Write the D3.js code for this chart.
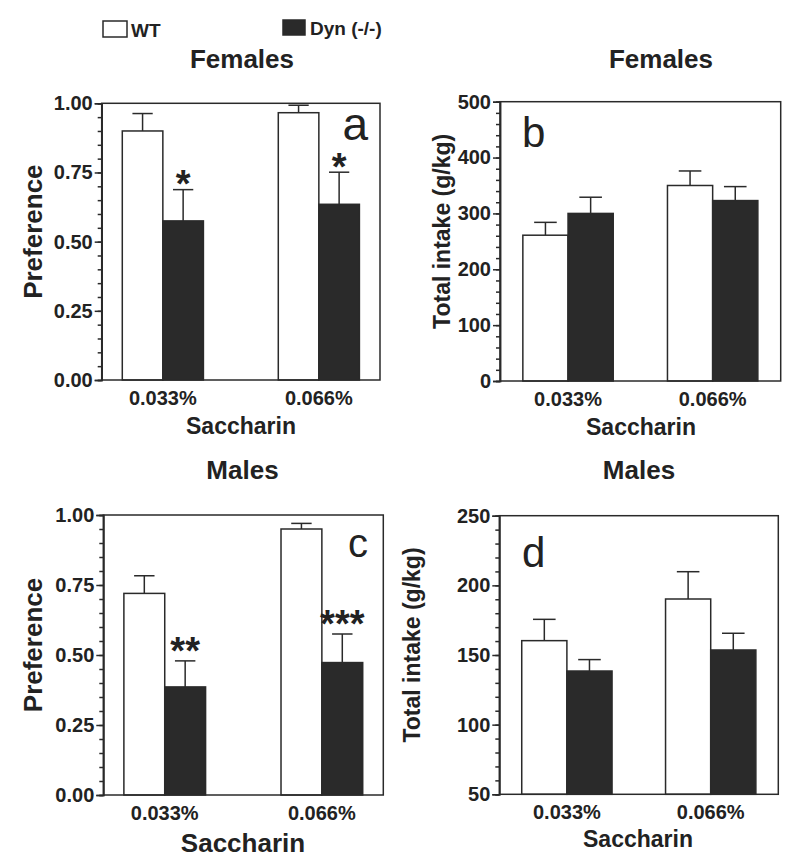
<!DOCTYPE html>
<html>
<head>
<meta charset="utf-8">
<script src="https://cdnjs.cloudflare.com/ajax/libs/d3/7.8.5/d3.min.js"></script>
<style>
  body { margin: 0; background: #fff; }
  svg text { font-family: "Liberation Sans", Arial, sans-serif; fill: #222; }
</style>
</head>
<body>
<div id="chart"></div>
<script>
// categories and groups
const categories = ["0.033%", "0.066%"];
const groups = ["WT", "Dyn (-/-)"];

// Females: preference (mean, SEM)
const femPrefWT = [0.90, 0.966];
const femPrefWTErr = [0.063, 0.027];
const femPrefDyn = [0.575, 0.635];
const femPrefDynErr = [0.113, 0.116];
const femPrefStars = ["*", "*"];

// Females: total intake g/kg
const femIntWT = [261, 350];
const femIntWTErr = [23, 26];
const femIntDyn = [300, 323];
const femIntDynErr = [29, 25];

// Males: preference
const malePrefWT = [0.72, 0.95];
const malePrefWTErr = [0.063, 0.02];
const malePrefDyn = [0.386, 0.473];
const malePrefDynErr = [0.093, 0.102];
const malePrefStars = ["**", "***"];

// Males: total intake g/kg
const maleIntWT = [160.3, 190.2];
const maleIntWTErr = [15.3, 19.6];
const maleIntDyn = [138.5, 153.6];
const maleIntDynErr = [8.2, 12];

// y tick values
const prefTicks = [0, 0.25, 0.5, 0.75, 1];
const femIntTicks = [0, 100, 200, 300, 400, 500];
const maleIntTicks = [50, 100, 150, 200, 250];

const ink = "#2a2a2a";

const svg = d3.select("#chart").append("svg")
  .attr("width", 800)
  .attr("height", 866);

const panels = [
  { letter: "a", title: "Females", wt: femPrefWT, wtErr: femPrefWTErr, dyn: femPrefDyn, dynErr: femPrefDynErr,
    stars: femPrefStars, starGap: 14, ticks: prefTicks, minor: 0.05, fmt: d3.format(".2f"), yLabel: "Preference",
    box: [101.7, 103.3, 380, 380], padIn: 0.48, padOut: 0.132,
    titleX: 242, titleY: 68, xLabSize: 23, xLabY: 434, xLabX: 241, yLabX: 41.7, yLabSize: 26,
    letterX: 368, letterY: 140, letterSize: 46, letterAnchor: "end" },
  { letter: "b", title: "Females", wt: femIntWT, wtErr: femIntWTErr, dyn: femIntDyn, dynErr: femIntDynErr,
    stars: null, ticks: femIntTicks, minor: 20, fmt: d3.format("d"), yLabel: "Total intake (g/kg)",
    box: [500, 101.7, 780.7, 381], padIn: 0.375, padOut: 0.158,
    titleX: 661, titleY: 68, xLabSize: 23, xLabY: 435, xLabX: 641, yLabX: 450, yLabSize: 23,
    letterX: 522, letterY: 147, letterSize: 42, letterAnchor: "start" },
  { letter: "c", title: "Males", wt: malePrefWT, wtErr: malePrefWTErr, dyn: malePrefDyn, dynErr: malePrefDynErr,
    stars: malePrefStars, starGap: 19, ticks: prefTicks, minor: 0.05, fmt: d3.format(".2f"), yLabel: "Preference",
    box: [103.3, 515, 383.3, 795], padIn: 0.48, padOut: 0.131,
    titleX: 242.5, titleY: 479, xLabSize: 26, xLabY: 852, xLabX: 243, yLabX: 41.7, yLabSize: 26,
    letterX: 368, letterY: 557, letterSize: 40, letterAnchor: "end" },
  { letter: "d", title: "Males", wt: maleIntWT, wtErr: maleIntWTErr, dyn: maleIntDyn, dynErr: maleIntDynErr,
    stars: null, ticks: maleIntTicks, minor: 10, fmt: d3.format("d"), yLabel: "Total intake (g/kg)",
    box: [499.3, 515.7, 778.3, 794.3], padIn: 0.372, padOut: 0.156,
    titleX: 639, titleY: 479, xLabSize: 23, xLabY: 847, xLabX: 638, yLabX: 419.5, yLabSize: 23,
    letterX: 522, letterY: 567, letterSize: 42, letterAnchor: "start" }
];

panels.forEach(p => {
  const [left, top, right, bottom] = p.box;
  const yMin = p.ticks[0], yMax = p.ticks[p.ticks.length - 1];

  const x = d3.scaleBand().domain(categories).range([left, right])
    .paddingInner(p.padIn).paddingOuter(p.padOut);
  const xs = d3.scaleBand().domain(groups).range([0, x.bandwidth()]);
  const y = d3.scaleLinear().domain([yMin, yMax]).range([bottom, top]);

  const rows = [];
  categories.forEach((c, i) => {
    rows.push({ cat: c, grp: groups[0], v: p.wt[i], e: p.wtErr[i], fill: "#fff" });
    rows.push({ cat: c, grp: groups[1], v: p.dyn[i], e: p.dynErr[i], fill: ink, star: p.stars ? p.stars[i] : "" });
  });

  const g = svg.append("g");

  // error bars (upper only), drawn under bars
  const cap = xs.bandwidth() / 2;
  rows.forEach(d => {
    const cx = x(d.cat) + xs(d.grp) + xs.bandwidth() / 2;
    g.append("line").attr("x1", cx).attr("x2", cx)
      .attr("y1", y(d.v)).attr("y2", y(d.v + d.e))
      .attr("stroke", ink).attr("stroke-width", 1.5);
    g.append("line").attr("x1", cx - cap / 2).attr("x2", cx + cap / 2)
      .attr("y1", y(d.v + d.e)).attr("y2", y(d.v + d.e))
      .attr("stroke", ink).attr("stroke-width", 1.5);
  });

  // bars
  g.selectAll("rect.bar").data(rows).enter().append("rect")
    .attr("class", "bar")
    .attr("x", d => x(d.cat) + xs(d.grp))
    .attr("width", xs.bandwidth())
    .attr("y", d => y(d.v))
    .attr("height", d => y(yMin) - y(d.v))
    .attr("fill", d => d.fill)
    .attr("stroke", ink)
    .attr("stroke-width", 1.5);

  // significance stars
  const starSize = 38;
  g.selectAll("text.star").data(rows.filter(d => d.star)).enter().append("text")
    .attr("class", "star")
    .attr("x", d => x(d.cat) + xs(d.grp) + xs.bandwidth() / 2)
    .attr("y", d => y(d.v + d.e) - p.starGap + 0.57 * starSize)
    .attr("text-anchor", "middle")
    .attr("font-size", starSize)
    .attr("font-weight", "bold")
    .text(d => d.star);

  // frame
  g.append("rect").attr("x", left).attr("y", top)
    .attr("width", right - left).attr("height", bottom - top)
    .attr("fill", "none").attr("stroke", ink).attr("stroke-width", 1.5);

  // y axis: minor ticks then major
  const minorVals = d3.range(yMin, yMax + p.minor / 2, p.minor);
  const minorAx = g.append("g").attr("transform", `translate(${left},0)`)
    .call(d3.axisLeft(y).tickValues(minorVals).tickSize(4).tickFormat(""));
  const majorAx = g.append("g").attr("transform", `translate(${left},0)`)
    .call(d3.axisLeft(y).tickValues(p.ticks).tickSize(7).tickPadding(2).tickFormat(p.fmt));
  [minorAx, majorAx].forEach(a => {
    a.select(".domain").attr("stroke", ink).attr("stroke-width", 1.5);
    a.selectAll(".tick line").attr("stroke", ink).attr("stroke-width", 1.5);
  });
  majorAx.selectAll(".tick text")
    .attr("font-size", 20).attr("font-weight", "bold")
    .attr("font-family", "Liberation Sans, Arial, sans-serif").attr("fill", "#222");

  // x category labels
  g.selectAll("text.cat").data(categories).enter().append("text")
    .attr("class", "cat")
    .attr("x", d => x(d) + x.bandwidth() / 2)
    .attr("y", bottom + 25)
    .attr("text-anchor", "middle")
    .attr("font-size", 20).attr("font-weight", "bold")
    .text(d => d);

  // x axis title
  g.append("text").attr("x", p.xLabX).attr("y", p.xLabY)
    .attr("text-anchor", "middle").attr("font-size", p.xLabSize).attr("font-weight", "bold")
    .text("Saccharin");

  // y axis title
  g.append("text")
    .attr("transform", `translate(${p.yLabX},${(top + bottom) / 2 - 10}) rotate(-90)`)
    .attr("text-anchor", "middle").attr("font-size", p.yLabSize).attr("font-weight", "bold")
    .text(p.yLabel);

  // panel title
  g.append("text").attr("x", p.titleX).attr("y", p.titleY)
    .attr("text-anchor", "middle").attr("font-size", 26).attr("font-weight", "bold")
    .text(p.title);

  // panel letter
  g.append("text").attr("x", p.letterX).attr("y", p.letterY)
    .attr("text-anchor", p.letterAnchor).attr("font-size", p.letterSize)
    .text(p.letter);
});

// legend
const legend = svg.append("g");
const legendItems = [
  { name: groups[0], fill: "#fff", x: 103, y: 21, w: 24, h: 16, tx: 131, ty: 37 },
  { name: groups[1], fill: ink, x: 283, y: 20, w: 22, h: 15, tx: 310, ty: 35 }
];
legendItems.forEach(l => {
  legend.append("rect").attr("x", l.x).attr("y", l.y).attr("width", l.w).attr("height", l.h)
    .attr("fill", l.fill).attr("stroke", ink).attr("stroke-width", 1.5);
  legend.append("text").attr("x", l.tx).attr("y", l.ty)
    .attr("font-size", 19).attr("font-weight", "bold").text(l.name);
});
</script>
</body>
</html>
